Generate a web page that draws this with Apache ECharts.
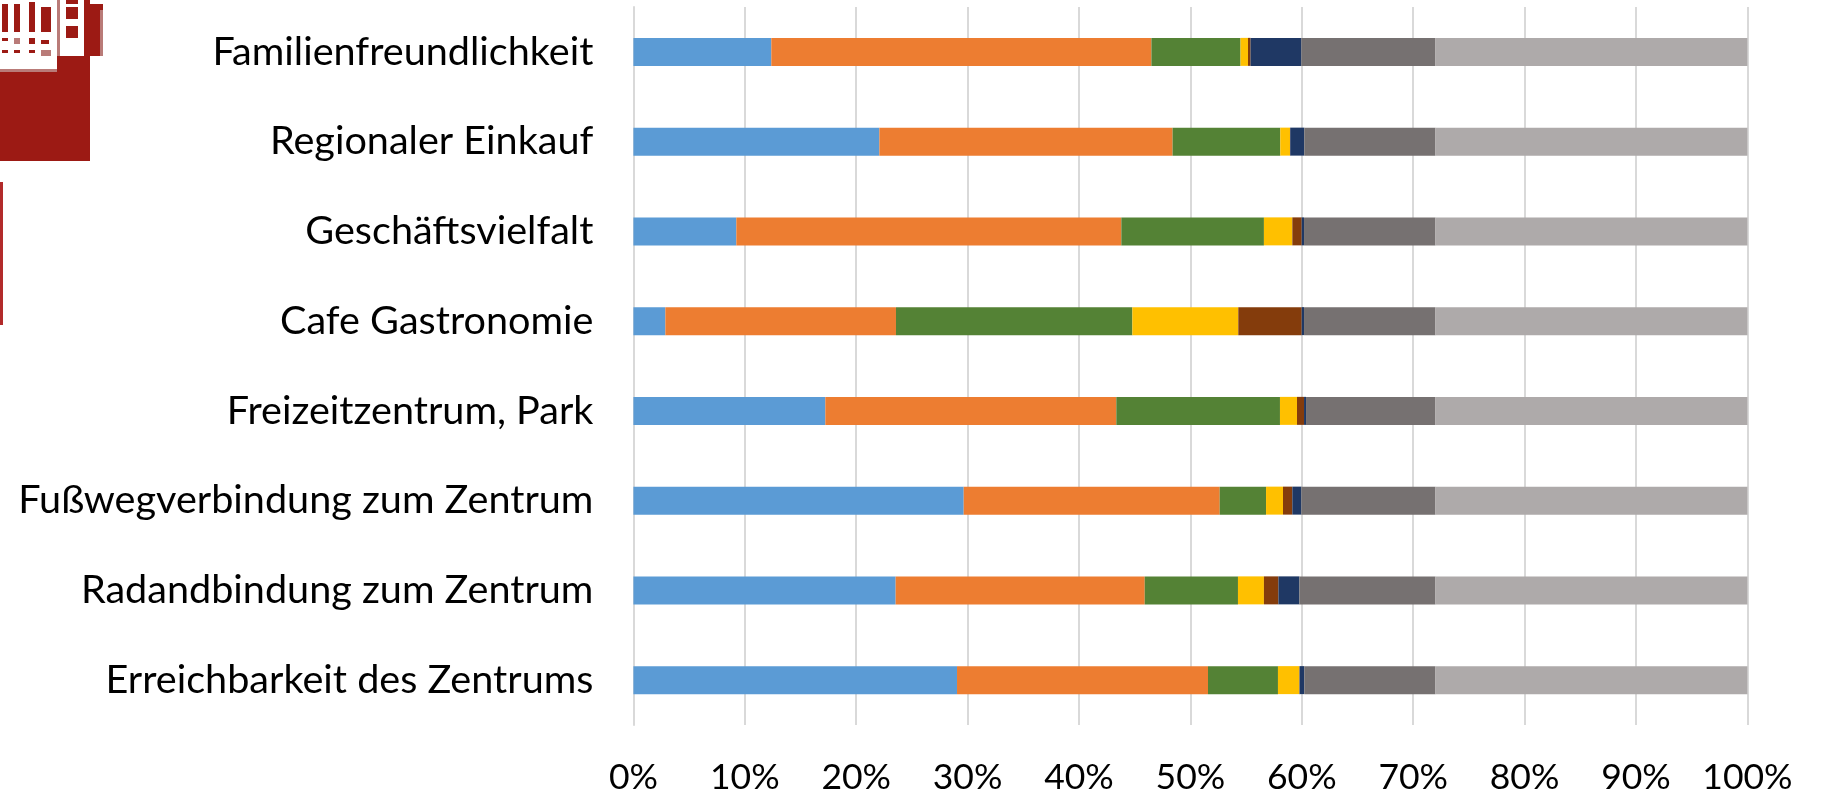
<!DOCTYPE html>
<html><head><meta charset="utf-8">
<style>html,body{margin:0;padding:0;background:#fff}#c{width:1822px;height:796px}</style>
<script src="https://cdn.jsdelivr.net/npm/echarts@6/dist/echarts.min.js"></script>
</head><body><div id="c"></div>
<script>
const categories = ["Erreichbarkeit des Zentrums","Radandbindung zum Zentrum","Fußwegverbindung zum Zentrum","Freizeitzentrum, Park","Cafe Gastronomie","Geschäftsvielfalt","Regionaler Einkauf","Familienfreundlichkeit"];
const tickLabels = ["0%","10%","20%","30%","40%","50%","60%","70%","80%","90%","100%"];
const serie1 = [29.05,23.54,29.65,17.23,2.87,9.24,22.08,12.38];
const serie2 = [22.53,22.36,22.98,26.12,20.70,34.56,26.32,34.12];
const serie3 = [6.28,8.37,4.16,14.69,21.22,12.80,9.67,8.00];
const serie4 = [1.92,2.33,1.52,1.53,9.51,2.55,0.87,0.67];
const serie5 = [0.02,1.30,0.84,0.63,5.69,0.84,0.02,0.23];
const serie6 = [0.42,1.88,0.81,0.18,0.21,0.21,1.26,4.56];
const serie7 = [11.78,12.22,12.04,11.62,11.80,11.80,11.78,12.04];
const serie8 = [28,28,28,28,28,28,28,28];
const seriesValues = [serie1,serie2,serie3,serie4,serie5,serie6,serie7,serie8];
const colors = ["#5B9BD5","#ED7D31","#548235","#FFC000","#843C0C","#1F3864","#767171","#AEAAAA"];
const logoRed = "#9C1A14", logoPink = "#B97B78";
const rect = (x,y,w,h,fill) => ({type:'rect',shape:{x,y,width:w,height:h},style:{fill},silent:true});
const logo = [
  rect(0,0,90,161,logoRed), rect(90,4,13,52,logoRed), rect(100,10,3,46,logoPink),
  rect(0,0,57,70,"#fff"), rect(60,0,24,56,"#fff"),
  rect(57,0,3,56,logoPink), rect(0,69,57,3,logoPink),
  rect(2,4,6,28,logoRed), rect(14,4,6,28,logoRed), rect(29,2,6,30,logoRed), rect(41,7,10,25,logoRed),
  rect(2,38,6,3,logoRed), rect(14,38,6,6,logoPink), rect(29,38,6,6,logoRed), rect(41,40,8,4,logoRed),
  rect(2,50,6,3,logoRed), rect(14,50,6,3,logoRed), rect(29,50,6,3,logoRed), rect(41,50,10,6,logoPink),
  rect(66,0,12,4,logoRed), rect(66,7,12,12,logoRed), rect(66,26,12,12,logoRed),
  rect(0,182,3,143,"#B22A2A")
];
const chart = echarts.init(document.getElementById('c'),null,{renderer:'canvas'});
chart.setOption({
  animation:false,
  backgroundColor:'#fff',
  textStyle:{fontFamily:'Lato'},
  grid:{left:633.4,top:7,width:1114,height:718,containLabel:false},
  xAxis:{type:'value',min:0,max:100,interval:10,
    axisLine:{show:false},axisTick:{show:false},
    axisLabel:{formatter:v=>tickLabels[v/10],fontFamily:'Lato',fontSize:35.5,color:'#000',margin:35},
    splitLine:{show:true,lineStyle:{color:'#D9D9D9',width:2}}},
  yAxis:{type:'category',data:categories,
    axisLine:{show:true,lineStyle:{color:'#D9D9D9',width:2}},axisTick:{show:false},
    axisLabel:{fontFamily:'Lato',fontSize:39.6,color:'#000',margin:40}},
  series:seriesValues.map((d,i)=>({type:'bar',stack:'a',name:'Serie '+(i+1),data:d,barWidth:28,
    itemStyle:{color:colors[i]},emphasis:{disabled:true}})),
  graphic:logo
});
</script></body></html>
